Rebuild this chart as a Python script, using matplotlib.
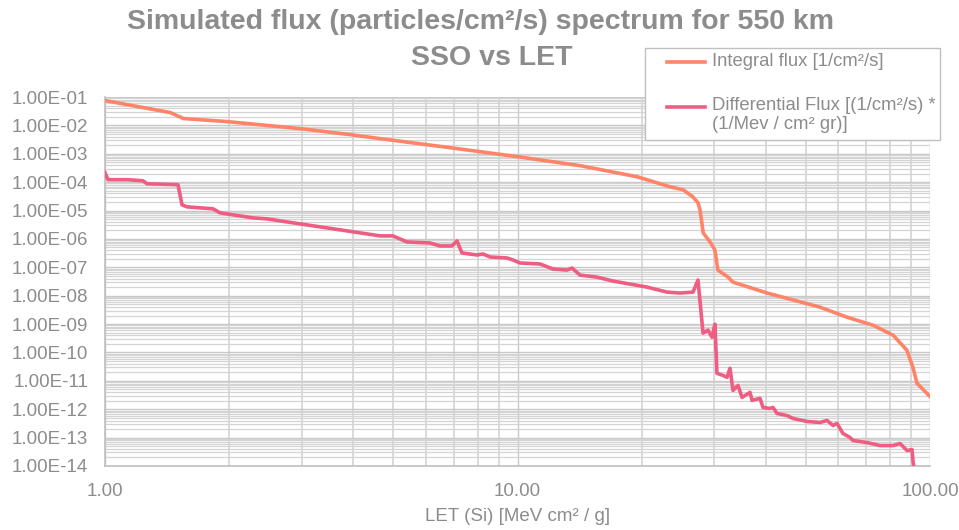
import matplotlib
matplotlib.use("Agg")
import matplotlib.pyplot as plt
from matplotlib.ticker import FixedLocator, FuncFormatter, NullFormatter
from matplotlib.lines import Line2D
from matplotlib.patches import Rectangle

plt.rcParams['font.family'] = ['Liberation Sans', 'DejaVu Sans']

# ---- data ----
integral_let = [1.00, 1.44, 1.55, 1.98, 2.97, 3.93, 4.64, 6.86, 10.0, 14.2, 19.5,
                23.4, 25.2, 26.6, 27.4, 27.7, 28.2, 29.3, 30.1, 30.6, 32.4, 33.3,
                40.3, 54.1, 62.9, 72.8, 81.4, 87.9, 90.9, 93.0, 98.3, 100.0]
integral_flux = [7.5e-2, 2.83e-2, 1.74e-2, 1.36e-2, 7.7e-3, 4.73e-3, 3.42e-3, 1.64e-3,
                 7.9e-4, 3.8e-4, 1.55e-4, 6.9e-5, 5.4e-5, 3.05e-5, 1.87e-5, 1.06e-5,
                 1.63e-6, 7.8e-7, 4.1e-7, 8.0e-8, 4.5e-8, 3.0e-8, 1.24e-8, 3.95e-9,
                 1.75e-9, 9.1e-10, 4.05e-10, 1.2e-10, 3.0e-11, 8.2e-12, 3.6e-12, 2.8e-12]

diff_let = [1.00, 1.017, 1.131, 1.236, 1.264, 1.503, 1.537, 1.580, 1.827, 1.900, 2.043,
            2.285, 2.470, 2.970, 3.861, 4.642, 4.991, 5.397, 6.137, 6.488, 6.936, 7.132,
            7.335, 7.976, 8.249, 8.577, 9.431, 9.752, 10.14, 11.34, 12.19, 13.18, 13.56,
            14.18, 15.59, 17.04, 20.60, 23.03, 24.77, 26.64, 27.39, 28.17, 28.96, 29.61,
            30.11, 30.44, 31.49, 32.20, 32.74, 33.30, 34.24, 35.02, 36.62, 37.03, 38.72,
            39.37, 40.94, 41.63, 42.57, 45.01, 46.55, 50.32, 54.12, 56.27, 58.19, 59.51,
            61.52, 63.98, 65.06, 70.36, 75.66, 81.36, 84.60, 87.97, 90.43, 90.93, 91.95]
diff_flux = [2.15e-4, 1.22e-4, 1.22e-4, 1.12e-4, 8.8e-5, 8.1e-5, 1.59e-5, 1.35e-5, 1.15e-5,
             8.3e-6, 7.05e-6, 5.52e-6, 5.09e-6, 3.39e-6, 1.92e-6, 1.28e-6, 1.28e-6, 7.8e-7,
             7.2e-7, 5.66e-7, 5.66e-7, 8.5e-7, 3.2e-7, 2.72e-7, 2.95e-7, 2.31e-7, 2.13e-7,
             1.81e-7, 1.42e-7, 1.31e-7, 8.7e-8, 8.0e-8, 9.4e-8, 5.3e-8, 4.5e-8, 3.28e-8,
             2.01e-8, 1.34e-8, 1.24e-8, 1.34e-8, 3.56e-8, 4.8e-10, 6.1e-10, 3.44e-10, 9.9e-10,
             1.84e-11, 1.56e-11, 1.33e-11, 2.77e-11, 4.6e-12, 6.9e-12, 2.61e-12, 3.93e-12,
             2.05e-12, 2.41e-12, 1.16e-12, 1.07e-12, 1.16e-12, 7.1e-13, 6.0e-13, 4.73e-13,
             3.71e-13, 3.42e-13, 4.02e-13, 2.68e-13, 3.15e-13, 1.40e-13, 1.01e-13, 7.9e-14,
             6.7e-14, 5.26e-14, 5.26e-14, 6.2e-14, 3.5e-14, 3.8e-14, 1.55e-14, 4.6e-15]

series_labels = ["Integral flux [1/cm²/s]", "Differential Flux [(1/cm²/s) *\n(1/Mev / cm² gr)]"]
title_lines = ["Simulated flux (particles/cm²/s) spectrum for 550 km", "SSO vs LET"]
x_label = "LET (Si) [MeV cm² / g]"
x_ticks = [1, 10, 100]
y_ticks = [10.0 ** e for e in range(-14, 0)]

# ---- styling ----
W, H = 959, 530
TXT = '#8c8c8c'
C_INT = '#FF8468'
C_DIF = '#EF5D82'

fig = plt.figure(figsize=(W / 100, H / 100), dpi=100)
L, R, T, B = 105, 930, 97, 466
ax = fig.add_axes([L / W, 1 - B / H, (R - L) / W, (B - T) / H])
ax.set_facecolor('white')
ax.set_xscale('log')
ax.set_yscale('log')
ax.set_xlim(1, 100)
ax.set_ylim(1e-14, 1e-1)

# grid
ax.yaxis.set_major_locator(FixedLocator(y_ticks))
minor_y = [m * 10.0 ** e for e in range(-14, -1) for m in range(2, 10)]
ax.yaxis.set_minor_locator(FixedLocator(minor_y))
ax.xaxis.set_major_locator(FixedLocator(x_ticks))
minor_x = [m * 10.0 ** e for e in range(0, 2) for m in range(2, 10)]
ax.xaxis.set_minor_locator(FixedLocator(minor_x))
ax.yaxis.set_minor_formatter(NullFormatter())
ax.xaxis.set_minor_formatter(NullFormatter())
ax.grid(which='major', axis='both', color='#c8c8c8', lw=1.0)
ax.grid(which='minor', axis='y', color='#d4d4d4', lw=0.9)
ax.grid(which='minor', axis='x', color='#d9d9d9', lw=1.4)
ax.set_axisbelow(True)

ax.yaxis.set_major_formatter(FuncFormatter(lambda v, p: f"{v:.2E}"))
ax.xaxis.set_major_formatter(FuncFormatter(lambda v, p: f"{v:.2f}"))
ax.tick_params(which='both', length=0, colors=TXT, labelsize=13.5)
ax.tick_params(axis='y', pad=12)
ax.tick_params(axis='x', pad=12)
for s in ['top', 'right']:
    ax.spines[s].set_visible(False)
for s in ['left', 'bottom']:
    ax.spines[s].set_color('#bfbfbf')
    ax.spines[s].set_linewidth(1.2)

ax.plot(integral_let, integral_flux, color=C_INT, lw=2.6, solid_joinstyle='round',
        clip_on=True, zorder=3)
ax.plot(diff_let, diff_flux, color=C_DIF, lw=2.6, solid_joinstyle='round',
        clip_on=True, zorder=3)

ax.set_xlabel(x_label, color=TXT, fontsize=13.5, labelpad=6)

# title
fig.text(480 / W, 1 - 22 / H, title_lines[0], ha='center', va='center',
         fontsize=20.5, fontweight='bold', color=TXT)
fig.text(492 / W, 1 - 58 / H, title_lines[1], ha='center', va='center',
         fontsize=20.5, fontweight='bold', color=TXT)

# legend (manual, Excel style)
lx0, ly0, lx1, ly1 = 645, 48, 940, 140
fig.add_artist(Rectangle((lx0 / W, 1 - ly1 / H), (lx1 - lx0) / W, (ly1 - ly0) / H,
                         transform=fig.transFigure, facecolor='white',
                         edgecolor='#c0c0c0', lw=1.0, zorder=5))
for (yy, col) in [(62, C_INT), (107, C_DIF)]:
    fig.add_artist(Line2D([667 / W, 705 / W], [1 - yy / H, 1 - yy / H],
                          transform=fig.transFigure, color=col, lw=2.6, zorder=6))
fig.text(712 / W, 1 - 62 / H, series_labels[0], ha='left', va='center',
         fontsize=13.3, color=TXT, zorder=6)
fig.text(712 / W, 1 - 97 / H, series_labels[1], ha='left', va='top',
         fontsize=13.3, color=TXT, zorder=6, linespacing=1.15)

fig.savefig('out.png', dpi=100)
